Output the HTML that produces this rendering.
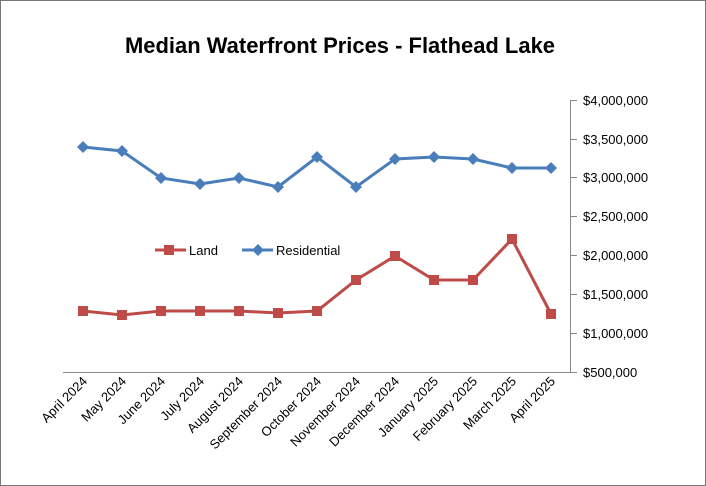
<!DOCTYPE html>
<html><head><meta charset="utf-8"><style>
html,body{margin:0;padding:0;background:#fff}
svg{display:block;font-family:"Liberation Sans",sans-serif}
</style></head><body>
<svg width="706" height="486" viewBox="0 0 706 486" xmlns="http://www.w3.org/2000/svg">
<rect x="0.5" y="0.5" width="705" height="485" fill="#fff" stroke="#777" stroke-width="1"/>
<text x="340" y="53" text-anchor="middle" font-size="22" font-weight="bold" textLength="430" lengthAdjust="spacingAndGlyphs">Median Waterfront Prices - Flathead Lake</text>
<g stroke="#888" stroke-width="1">
<line x1="570.5" y1="100" x2="570.5" y2="372"/>
<line x1="63" y1="372.5" x2="577" y2="372.5"/>
<line x1="570" y1="100.5" x2="577" y2="100.5"/>
<line x1="570" y1="139.5" x2="577" y2="139.5"/>
<line x1="570" y1="177.5" x2="577" y2="177.5"/>
<line x1="570" y1="216.5" x2="577" y2="216.5"/>
<line x1="570" y1="255.5" x2="577" y2="255.5"/>
<line x1="570" y1="294.5" x2="577" y2="294.5"/>
<line x1="570" y1="333.5" x2="577" y2="333.5"/>
</g>
<g font-size="13" fill="#000">
<text x="583" y="105">$4,000,000</text>
<text x="583" y="144">$3,500,000</text>
<text x="583" y="182">$3,000,000</text>
<text x="583" y="221">$2,500,000</text>
<text x="583" y="260">$2,000,000</text>
<text x="583" y="299">$1,500,000</text>
<text x="583" y="338">$1,000,000</text>
<text x="583" y="377">$500,000</text>
</g>
<g font-size="13" text-anchor="end">
<text transform="translate(88,382) rotate(-45)">April 2024</text>
<text transform="translate(127,382) rotate(-45)">May 2024</text>
<text transform="translate(166,382) rotate(-45)">June 2024</text>
<text transform="translate(205,382) rotate(-45)">July 2024</text>
<text transform="translate(244,382) rotate(-45)">August 2024</text>
<text transform="translate(283,382) rotate(-45)">September 2024</text>
<text transform="translate(322,382) rotate(-45)">October 2024</text>
<text transform="translate(361,382) rotate(-45)">November 2024</text>
<text transform="translate(400,382) rotate(-45)">December 2024</text>
<text transform="translate(439,382) rotate(-45)">January 2025</text>
<text transform="translate(478,382) rotate(-45)">February 2025</text>
<text transform="translate(517,382) rotate(-45)">March 2025</text>
<text transform="translate(556,382) rotate(-45)">April 2025</text>
</g>
<polyline fill="none" stroke="#4a7ebb" stroke-width="3" points="83,147 122,151 161,178 200,184 239,178 278,187 317,157 356,187 395,159 434,157 473,159 512,168 551,168"/>
<g fill="#4a7ebb">
<path d="M83,141 l6,6 -6,6 -6,-6z"/><path d="M122,145 l6,6 -6,6 -6,-6z"/><path d="M161,172 l6,6 -6,6 -6,-6z"/><path d="M200,178 l6,6 -6,6 -6,-6z"/><path d="M239,172 l6,6 -6,6 -6,-6z"/><path d="M278,181 l6,6 -6,6 -6,-6z"/><path d="M317,151 l6,6 -6,6 -6,-6z"/><path d="M356,181 l6,6 -6,6 -6,-6z"/><path d="M395,153 l6,6 -6,6 -6,-6z"/><path d="M434,151 l6,6 -6,6 -6,-6z"/><path d="M473,153 l6,6 -6,6 -6,-6z"/><path d="M512,162 l6,6 -6,6 -6,-6z"/><path d="M551,162 l6,6 -6,6 -6,-6z"/>
</g>
<polyline fill="none" stroke="#be4b48" stroke-width="3" points="83,311 122,315 161,311 200,311 239,311 278,313 317,311 356,280 395,256 434,280 473,280 512,239 551,314"/>
<g fill="#be4b48">
<rect x="78" y="306" width="10" height="10"/><rect x="117" y="310" width="10" height="10"/><rect x="156" y="306" width="10" height="10"/><rect x="195" y="306" width="10" height="10"/><rect x="234" y="306" width="10" height="10"/><rect x="273" y="308" width="10" height="10"/><rect x="312" y="306" width="10" height="10"/><rect x="351" y="275" width="10" height="10"/><rect x="390" y="251" width="10" height="10"/><rect x="429" y="275" width="10" height="10"/><rect x="468" y="275" width="10" height="10"/><rect x="507" y="234" width="10" height="10"/><rect x="546" y="309" width="10" height="10"/>
</g>
<line x1="155" y1="250" x2="186" y2="250" stroke="#be4b48" stroke-width="3"/>
<rect x="164" y="245" width="10" height="10" fill="#be4b48"/>
<text x="189" y="255" font-size="13">Land</text>
<line x1="242" y1="250" x2="273" y2="250" stroke="#4a7ebb" stroke-width="3"/>
<path d="M258,244 l6,6 -6,6 -6,-6z" fill="#4a7ebb"/>
<text x="276" y="255" font-size="13">Residential</text>
</svg>
</body></html>
